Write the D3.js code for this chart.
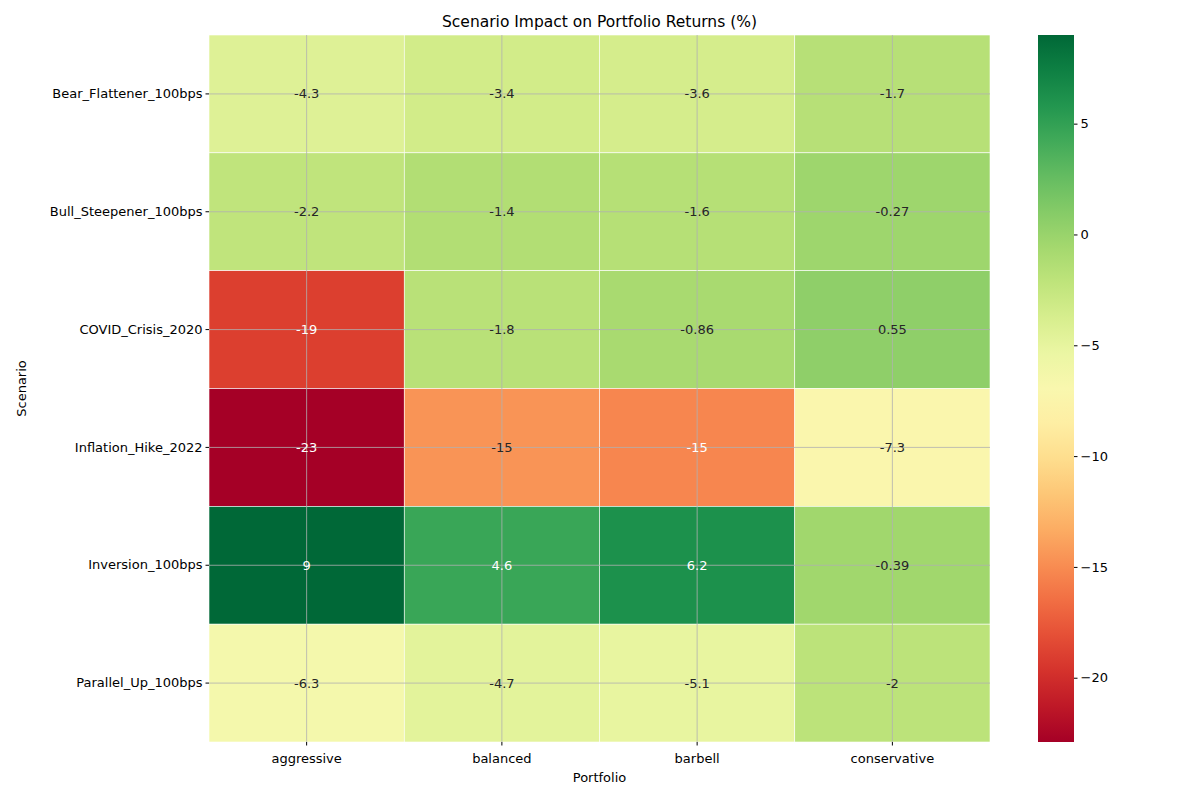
<!DOCTYPE html>
<html><head><meta charset="utf-8">
<script src="https://cdn.jsdelivr.net/npm/d3@7"></script>
<style>body{margin:0;background:#fff}text{font-family:"DejaVu Sans",sans-serif}</style>
</head><body><div id="chart"></div>
<script>
var scenarios = ["Bear_Flattener_100bps","Bull_Steepener_100bps","COVID_Crisis_2020","Inflation_Hike_2022","Inversion_100bps","Parallel_Up_100bps"];
var portfolios = ["aggressive","balanced","barbell","conservative"];
var values = [
  [-4.3, -3.4, -3.6, -1.7],
  [-2.2, -1.4, -1.6, -0.27],
  [-19, -1.8, -0.86, 0.55],
  [-23, -14.6, -15.3, -7.3],
  [9, 4.6, 6.2, -0.39],
  [-6.3, -4.7, -5.1, -2]
];
var labels = [
  ["-4.3","-3.4","-3.6","-1.7"],
  ["-2.2","-1.4","-1.6","-0.27"],
  ["-19","-1.8","-0.86","0.55"],
  ["-23","-15","-15","-7.3"],
  ["9","4.6","6.2","-0.39"],
  ["-6.3","-4.7","-5.1","-2"]
];
var cbTicks = [5, 0, -5, -10, -15, -20];
var vmin = -22.9, vmax = 9.0;

var svg = d3.select("#chart").append("svg").attr("width",1200).attr("height",800);
var mLeft = 209, mRight = 990, mTop = 35, mBottom = 742;
var x = d3.scaleBand().domain(portfolios).range([mLeft,mRight]);
var y = d3.scaleBand().domain(scenarios).range([mTop,mBottom]);
var color = d3.scaleSequential(d3.interpolateRdYlGn).domain([vmin,vmax]);

var cells = [];
values.forEach(function(row,i){ row.forEach(function(v,j){ cells.push({s:scenarios[i],p:portfolios[j],v:v,l:labels[i][j]}); }); });

svg.selectAll("rect.cell").data(cells).enter().append("rect")
  .attr("x",function(d){return x(d.p);}).attr("y",function(d){return y(d.s);})
  .attr("width",x.bandwidth()).attr("height",y.bandwidth())
  .attr("fill",function(d){return color(d.v);})
  .attr("stroke","#fff").attr("stroke-width",0.6);

// grid lines at tick centers
var g = svg.append("g").attr("stroke","#b0b0b0").attr("stroke-width",0.8);
portfolios.forEach(function(p){ var cx=x(p)+x.bandwidth()/2; g.append("line").attr("x1",cx).attr("x2",cx).attr("y1",mTop).attr("y2",mBottom); });
scenarios.forEach(function(s){ var cy=y(s)+y.bandwidth()/2; g.append("line").attr("x1",mLeft).attr("x2",mRight).attr("y1",cy).attr("y2",cy); });

function lum(c){ var r=d3.rgb(c); var f=function(v){v/=255;return v<=0.03928?v/12.92:Math.pow((v+0.055)/1.055,2.4);}; return 0.2126*f(r.r)+0.7152*f(r.g)+0.0722*f(r.b); }
svg.selectAll("text.val").data(cells).enter().append("text")
  .attr("x",function(d){return x(d.p)+x.bandwidth()/2;})
  .attr("y",function(d){return y(d.s)+y.bandwidth()/2;})
  .attr("dy","0.35em").attr("text-anchor","middle").attr("font-size",13)
  .attr("fill",function(d){return lum(color(d.v))>0.408?"#262626":"#fff";})
  .text(function(d){return d.l;});

var xAxis = svg.append("g").attr("transform","translate(0,"+mBottom+")").call(d3.axisBottom(x).tickSize(3.5).tickSizeOuter(0));
var yAxis = svg.append("g").attr("transform","translate("+mLeft+",0)").call(d3.axisLeft(y).tickSize(3.5).tickSizeOuter(0));
[xAxis,yAxis].forEach(function(a){ a.select(".domain").remove(); a.selectAll("text").attr("font-size",13).attr("fill","#000").style("font-family","DejaVu Sans"); a.selectAll("line").attr("stroke","#000"); });
xAxis.selectAll("text").attr("dy","1.1em");

svg.append("text").attr("x",(mLeft+mRight)/2).attr("y",27).attr("text-anchor","middle").attr("font-size",15.5).text("Scenario Impact on Portfolio Returns (%)");
svg.append("text").attr("x",(mLeft+mRight)/2).attr("y",782).attr("text-anchor","middle").attr("font-size",13).text("Portfolio");
svg.append("text").attr("transform","translate(26,"+((mTop+mBottom)/2)+") rotate(-90)").attr("text-anchor","middle").attr("font-size",13).text("Scenario");

// colorbar
var cbx = 1038, cbw = 36;
var defs = svg.append("defs");
var grad = defs.append("linearGradient").attr("id","cb").attr("x1",0).attr("x2",0).attr("y1",1).attr("y2",0);
d3.range(0,1.001,0.05).forEach(function(t){ grad.append("stop").attr("offset",t).attr("stop-color",d3.interpolateRdYlGn(t)); });
svg.append("rect").attr("x",cbx).attr("y",mTop).attr("width",cbw).attr("height",mBottom-mTop).attr("fill","url(#cb)");
var cyScale = d3.scaleLinear().domain([vmin,vmax]).range([mBottom,mTop]);
var cbAxis = svg.append("g").attr("transform","translate("+(cbx+cbw)+",0)")
  .call(d3.axisRight(cyScale).tickValues(cbTicks).tickSize(3.5).tickFormat(function(d){return d<0?"\u2212"+(-d):d;}));
cbAxis.select(".domain").remove();
cbAxis.selectAll("text").attr("font-size",13).attr("fill","#000");
</script></body></html>
